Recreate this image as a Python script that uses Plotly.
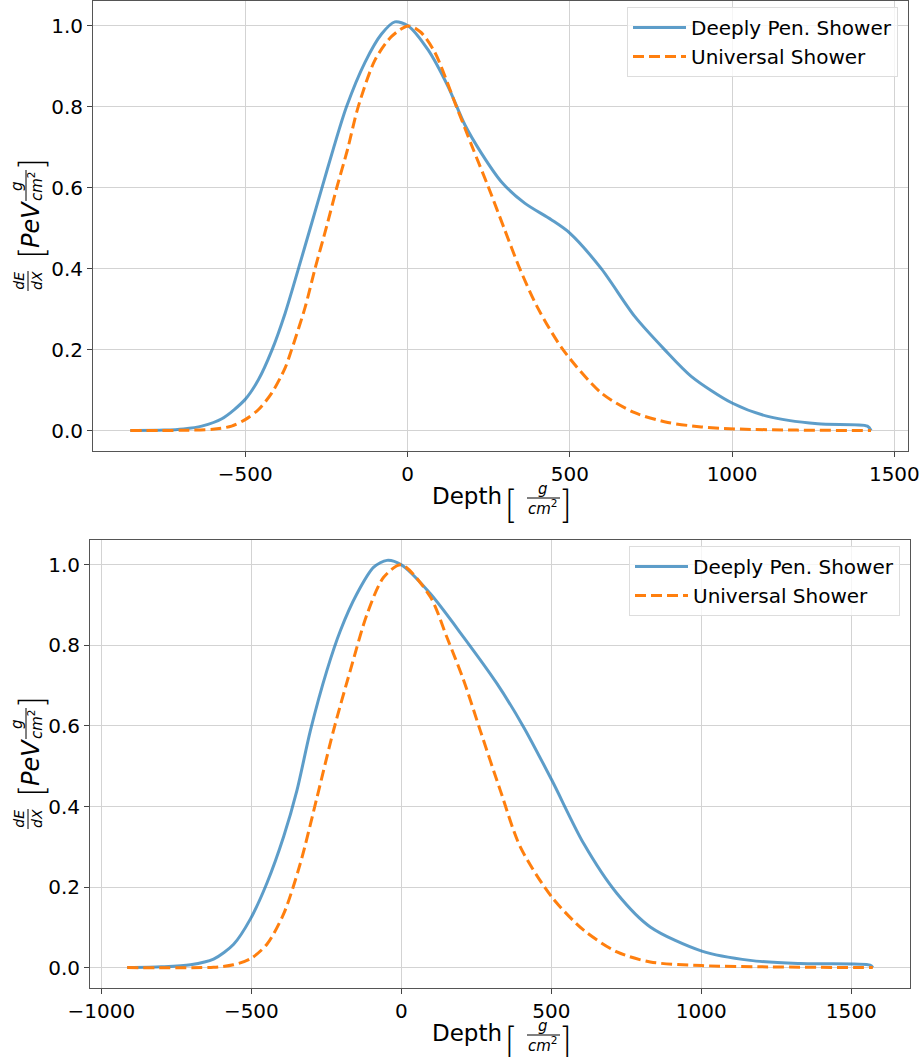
import plotly.graph_objects as go

# ---------------- data ----------------
top_deep_x = [-854, -750, -690, -634, -572, -500, -459, -418, -377, -336, -295, -265, -229, -188,
              -131, -80, -39, 2, 64, 125, 177, 228, 289, 361, 443, 500, 597, 700, 792, 874,
              1000, 1110, 1264, 1417, 1428]
top_deep_y = [0.0, 0.001, 0.004, 0.011, 0.029, 0.077, 0.126, 0.198, 0.29, 0.4, 0.513, 0.596, 0.695, 0.8,
              0.91, 0.98, 1.01, 1.0, 0.94, 0.85, 0.755, 0.685, 0.615, 0.562, 0.521, 0.488, 0.40,
              0.282, 0.20, 0.134, 0.068, 0.035, 0.0165, 0.011, 0.0]

top_univ_x = [-854, -700, -600, -542, -500, -459, -418, -377, -357, -316, -285, -249, -218, -185,
              -152, -100, -49, 2, 40, 84, 151, 200, 250, 300, 346, 400, 479, 597, 700, 802, 905,
              1007, 1200, 1428]
top_univ_y = [0.0, 0.0005, 0.003, 0.011, 0.027, 0.052, 0.093, 0.155, 0.2, 0.303, 0.4, 0.505, 0.6,
              0.694, 0.8, 0.916, 0.974, 1.0, 0.985, 0.935, 0.8, 0.70, 0.6, 0.495, 0.4, 0.305, 0.2,
              0.093, 0.044, 0.02, 0.009, 0.004, 0.001, 0.0]

bot_deep_x = [-914, -800, -703, -626, -559, -503, -448, -392, -348, -303, -248, -203, -148, -92, -48,
              0, 97, 208, 319, 408, 502, 608, 719, 830, 1002, 1163, 1330, 1563, 1572]
bot_deep_y = [0.0, 0.002, 0.007, 0.021, 0.058, 0.121, 0.21, 0.326, 0.44, 0.589, 0.738, 0.837, 0.928,
              0.994, 1.011, 1.0, 0.928, 0.82, 0.705, 0.597, 0.465, 0.308, 0.184, 0.101, 0.041, 0.018,
              0.01, 0.006, 0.0]

bot_univ_x = [-914, -626, -560, -503, -448, -392, -337, -281, -226, -170, -114, -59, 0, 97, 152, 208,
              263, 330, 397, 502, 608, 719, 830, 1002, 1200, 1572]
bot_univ_y = [0.0, 0.001, 0.007, 0.022, 0.058, 0.134, 0.258, 0.423, 0.589, 0.738, 0.878, 0.969, 1.0,
              0.92, 0.82, 0.713, 0.589, 0.44, 0.299, 0.175, 0.093, 0.039, 0.014, 0.005, 0.002, 0.0]

series_names = ["Deeply Pen. Shower", "Universal Shower"]
y_ticks = [0.0, 0.2, 0.4, 0.6, 0.8, 1.0]
top_x_ticks = [-500, 0, 500, 1000, 1500]
bot_x_ticks = [-1000, -500, 0, 500, 1000, 1500]

# ---------------- figure ----------------
W, H = 924, 1057
FONT = "DejaVu Sans"
THIN = "Inter, Lato, DejaVu Sans"
BLUE = "rgba(31,119,180,0.72)"
ORANGE = "#ff7f0e"


def px(x):
    return x / W


def py(y):
    return 1 - y / H


fig = go.Figure()

fig.add_trace(go.Scatter(x=top_deep_x, y=top_deep_y, mode="lines", name=series_names[0],
                         line=dict(color=BLUE, width=3, shape="spline", smoothing=0.8),
                         xaxis="x", yaxis="y", legend="legend"))
fig.add_trace(go.Scatter(x=top_univ_x, y=top_univ_y, mode="lines", name=series_names[1],
                         line=dict(color=ORANGE, width=3, dash="11px,5px", shape="spline", smoothing=0.8),
                         xaxis="x", yaxis="y", legend="legend"))
fig.add_trace(go.Scatter(x=bot_deep_x, y=bot_deep_y, mode="lines", name=series_names[0],
                         line=dict(color=BLUE, width=3, shape="spline", smoothing=0.8),
                         xaxis="x2", yaxis="y2", legend="legend2"))
fig.add_trace(go.Scatter(x=bot_univ_x, y=bot_univ_y, mode="lines", name=series_names[1],
                         line=dict(color=ORANGE, width=3, dash="11px,5px", shape="spline", smoothing=0.8),
                         xaxis="x2", yaxis="y2", legend="legend2"))

axis_common = dict(showgrid=True, gridcolor="#d3d3d3", gridwidth=1, zeroline=False,
                   showline=True, linecolor="#555555", linewidth=1, mirror=True,
                   ticks="outside", ticklen=5, tickwidth=1, tickcolor="#444444",
                   tickfont=dict(family=FONT, size=20, color="black"), automargin=False)

legend_common = dict(xanchor="right", yanchor="top", itemwidth=53,
                     bgcolor="rgba(255,255,255,0.8)", bordercolor="#dddddd", borderwidth=1,
                     font=dict(family=FONT, size=20, color="black"))

fig.update_layout(
    width=W, height=H,
    margin=dict(l=0, r=0, t=0, b=0),
    paper_bgcolor="white", plot_bgcolor="white",
    font=dict(family=FONT, color="black"),
    xaxis=dict(domain=[px(93), px(908)], range=[-969, 1542], tickvals=top_x_ticks,
               anchor="y", **axis_common),
    yaxis=dict(domain=[py(451), py(1)], range=[-0.0506, 1.0616], tickvals=y_ticks,
               tickformat=".1f", anchor="x", **axis_common),
    xaxis2=dict(domain=[px(90), px(910)], range=[-1038, 1696], tickvals=bot_x_ticks,
                anchor="y2", **axis_common),
    yaxis2=dict(domain=[py(988), py(540)], range=[-0.0506, 1.0616], tickvals=y_ticks,
                tickformat=".1f", anchor="x2", **axis_common),
    legend=dict(x=px(898), y=py(7), **legend_common),
    legend2=dict(x=px(900), y=py(546), **legend_common),
    showlegend=True,
)

annotations = []
shapes = []


def ann(x, y, text, size, angle=0, family=FONT, weight=None):
    f = dict(family=family, size=size, color="black")
    if weight is not None:
        f["weight"] = weight
    annotations.append(dict(x=px(x), y=py(y), xref="paper", yref="paper", text=text,
                            showarrow=False, textangle=angle, xanchor="center", yanchor="middle",
                            font=f))


def hline(x0, x1, y):
    shapes.append(dict(type="line", xref="paper", yref="paper", x0=px(x0), x1=px(x1),
                       y0=py(y), y1=py(y), line=dict(color="black", width=1)))


def vline(x, y0, y1):
    shapes.append(dict(type="line", xref="paper", yref="paper", x0=px(x), x1=px(x),
                       y0=py(y0), y1=py(y1), line=dict(color="black", width=1)))


# y-axis labels (rotated), dE/dX [PeV g/cm^2]
for dy in (0, 538):
    ann(28, 281 + dy, "<i>dE</i><br><i>dX</i>", 14, -90)
    vline(28, 271 + dy, 291 + dy)
    ann(31, 254 + dy, "[", 34, -90, THIN, 200)
    ann(31, 225 + dy, "<i>PeV</i>", 24, -90)
    ann(27, 186 + dy, "<i>g</i><br><i>cm</i><sup>2</sup>", 15, -90)
    vline(26, 170 + dy, 201 + dy)
    ann(31, 164 + dy, "]", 34, -90, THIN, 200)

# x-axis labels: Depth [g/cm^2]
for dy in (0, 537):
    ann(467, 496 + dy, "Depth", 23)
    ann(511, 504 + dy, "[", 38, 0, THIN, 200)
    ann(543, 499 + dy, "<i>g</i><br><i>cm</i><sup>2</sup>", 15)
    hline(527, 560, 498 + dy)
    ann(566, 504 + dy, "]", 38, 0, THIN, 200)

fig.update_layout(annotations=annotations, shapes=shapes)

fig.write_html("out.html", config={"displayModeBar": False},
               post_script="document.body.style.margin='0';document.body.style.padding='0';")
